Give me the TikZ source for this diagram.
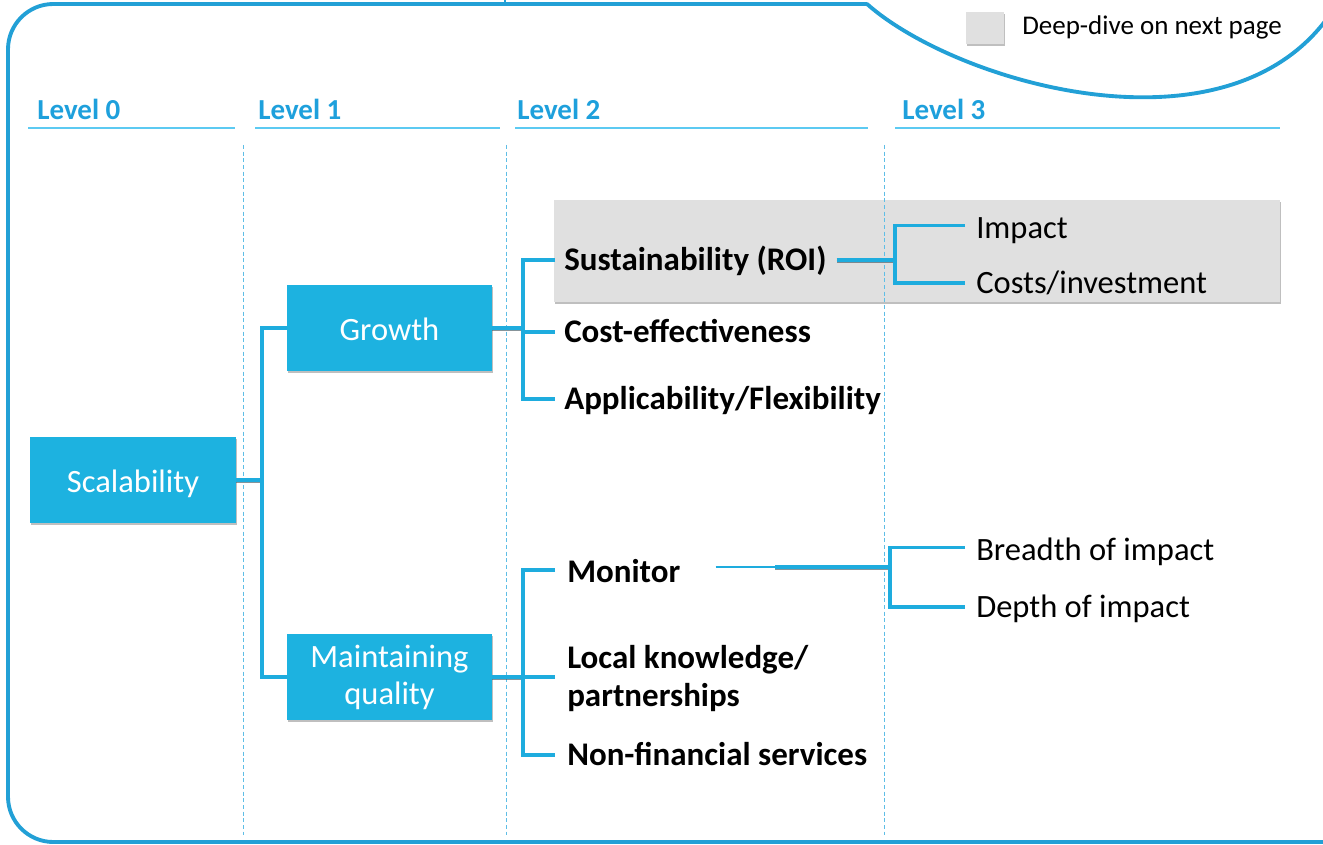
\documentclass[tikz,border=0pt]{standalone}
\usepackage{fontspec}
\setmainfont{Carlito}
\usetikzlibrary{shadows}

\definecolor{boxblue}{RGB}{29,178,224}
\definecolor{lineblue}{RGB}{30,172,222}
\definecolor{frameblue}{RGB}{34,160,214}
\definecolor{headblue}{RGB}{30,160,220}
\definecolor{ulblue}{RGB}{92,202,242}
\definecolor{guideblue}{RGB}{95,190,230}
\definecolor{deepgray}{RGB}{224,224,224}
\definecolor{stubshade}{RGB}{70,90,100}

\begin{document}
\begin{tikzpicture}[x=0.75pt,y=-0.75pt,
  frame/.style={draw=frameblue, line width=2.9pt, line cap=round},
  lvl/.style={anchor=base west, inner sep=0pt, text=headblue,
    font=\fontsize{21.75}{26}\selectfont\bfseries},
  uline/.style={draw=ulblue, line width=1.2pt},
  guide/.style={draw=guideblue, line width=0.7pt, dash pattern=on 3pt off 2pt},
  softshadow/.style={drop shadow={shadow xshift=0.6pt, shadow yshift=-1.6pt,
    fill=black, opacity=0.25}},
  bluebox/.style={fill=boxblue, softshadow, text=white, inner sep=0pt,
    minimum width=154pt, minimum height=64.5pt,
    font=\fontsize{24.4}{27.75}\selectfont},
  boxline/.style={text height=19pt, text depth=0pt},
  capline/.style={text height=15.5pt, text depth=0pt},
  item/.style={anchor=west, inner sep=0pt,
    font=\fontsize{24.75}{28.5}\selectfont\bfseries},
  leaf/.style={anchor=west, inner sep=0pt, capline,
    font=\fontsize{24.4}{28}\selectfont},
  conn/.style={draw=lineblue, line width=2.35pt},
  under/.style={draw=stubshade, line width=2.2pt, opacity=0.65}
]
\useasboundingbox (0,0) rectangle (1323,845);

% outer frame with the curved cut-out at the top right
\draw[frame, rounded corners=34pt] (867,4) -- (8,4) -- (8,842) -- (1323,842);
\draw[frame] (867,4) .. controls (955,82) and (1220,160) .. (1326,20);
\draw[frame, line width=1.5pt, line cap=butt] (505,0) -- (505,4);

% legend
\node[fill=deepgray, softshadow, minimum width=28.5pt, minimum height=24pt,
  inner sep=0pt] (key) at (985,28) {};
\node[anchor=west, inner sep=0pt, font=\fontsize{20.25}{24}\selectfont]
  (keytxt) at (1022,27) {Deep-dive on next page};

% level headings
\node[lvl] (l0) at (37,119.5) {Level 0};
\node[lvl] (l1) at (258,119.5) {Level 1};
\node[lvl] (l2) at (517,119.5) {Level 2};
\node[lvl] (l3) at (902,119.5) {Level 3};
\draw[uline] (28,128) -- (235,128);
\draw[uline] (255,128) -- (500,128);
\draw[uline] (515,128) -- (868,128);
\draw[uline] (895,128) -- (1280,128);

% highlighted deep-dive band
\node[fill=deepgray, softshadow, minimum width=544.5pt, minimum height=76.5pt,
  inner sep=0pt] (panel) at (917,251) {};

% column guides
\draw[guide] (243,145) -- (243,835);
\draw[guide] (506,145) -- (506,835);
\draw[guide] (884,145) -- (884,835);

% level 0 and level 1 boxes
\node[bluebox, boxline, minimum width=154.5pt] (scal) at (133,480) {Scalability};
\node[bluebox, boxline] (grow) at (389.5,328) {Growth};
\node[bluebox, align=center] (mq) at (389.5,677) {Maintaining\\quality};

% level 2 items
\node[item, capline] (sus) at (564,260) {Sustainability (ROI)};
\node[item, capline] (cost) at (564,332) {Cost-effectiveness};
\node[item, capline] (app) at (564,399) {Applicability/Flexibility};
\node[item, capline] (mon) at (567,572) {Monitor};
\node[item, align=left] (loc) at (567,679) {Local knowledge/\\partnerships};
\node[item, capline] (nfs) at (567,755) {Non-financial services};

% level 3 items
\node[leaf] (imp) at (976,228) {Impact};
\node[leaf] (cst) at (976,283) {Costs/investment};
\node[leaf] (bre) at (976,550) {Breadth of impact};
\node[leaf] (dep) at (976,607) {Depth of impact};

% bus positions
\coordinate (j0) at (262,0);
\coordinate (j1) at (523,0);
\coordinate (s2) at (555,0);
\coordinate (j3a) at (895,0);
\coordinate (j3b) at (890,0);
\coordinate (s3) at (965,0);

% shaded stubs leaving the boxes: dark underlay, blue on top
\begin{scope}[transform canvas={yshift=-1.4pt}]
  \draw[under] (scal.east) -- (scal.east -| j0);
  \draw[under] (grow.east) -- (grow.east -| j1);
  \draw[under] (mq.east) -- (mq.east -| j1);
  \draw[under] ([xshift=7.5pt]sus.east) -- (sus.east -| j3a);
  \draw[under] (775,567) -- (890,567);
\end{scope}

% level 0 -> level 1
\draw[conn] (scal.east) -- (scal.east -| j0);
\draw[conn] (grow.west) -- (grow.west -| j0) -- (mq.west -| j0) -- (mq.west);

% Growth -> level 2
\draw[conn] (grow.east) -- (grow.east -| j1);
\draw[conn] (sus.west -| s2) -- (sus.west -| j1) -- (app.west -| j1) -- (app.west -| s2);
\draw[conn] (cost.west -| j1) -- (cost.west -| s2);

% Maintaining quality -> level 2
\draw[conn] (mq.east) -- (mq.east -| j1);
\draw[conn] ([yshift=1.5pt]mon.west -| s2) -- ([yshift=1.5pt]mon.west -| j1)
  -- (nfs.west -| j1) -- (nfs.west -| s2);
\draw[conn] ([yshift=1.5pt]loc.west -| j1) -- ([yshift=1.5pt]loc.west -| s2);

% Sustainability -> level 3
\draw[conn] ([xshift=7.5pt]sus.east) -- (sus.east -| j3a);
\draw[conn] ([yshift=2pt]imp.west -| s3) -- ([yshift=2pt]imp.west -| j3a)
  -- (cst.west -| j3a) -- (cst.west -| s3);

% Monitor -> level 3
\coordinate (m1) at ([shift={(35,-5)}]mon.east);
\coordinate (m2) at (775,567);
\draw[conn, line width=1.6pt] (m1) -- (m2);
\draw[conn] (m2) -- (m2 -| j3b);
\draw[conn] ([yshift=2pt]bre.west -| s3) -- ([yshift=2pt]bre.west -| j3b)
  -- (dep.west -| j3b) -- (dep.west -| s3);
\end{tikzpicture}
\end{document}
